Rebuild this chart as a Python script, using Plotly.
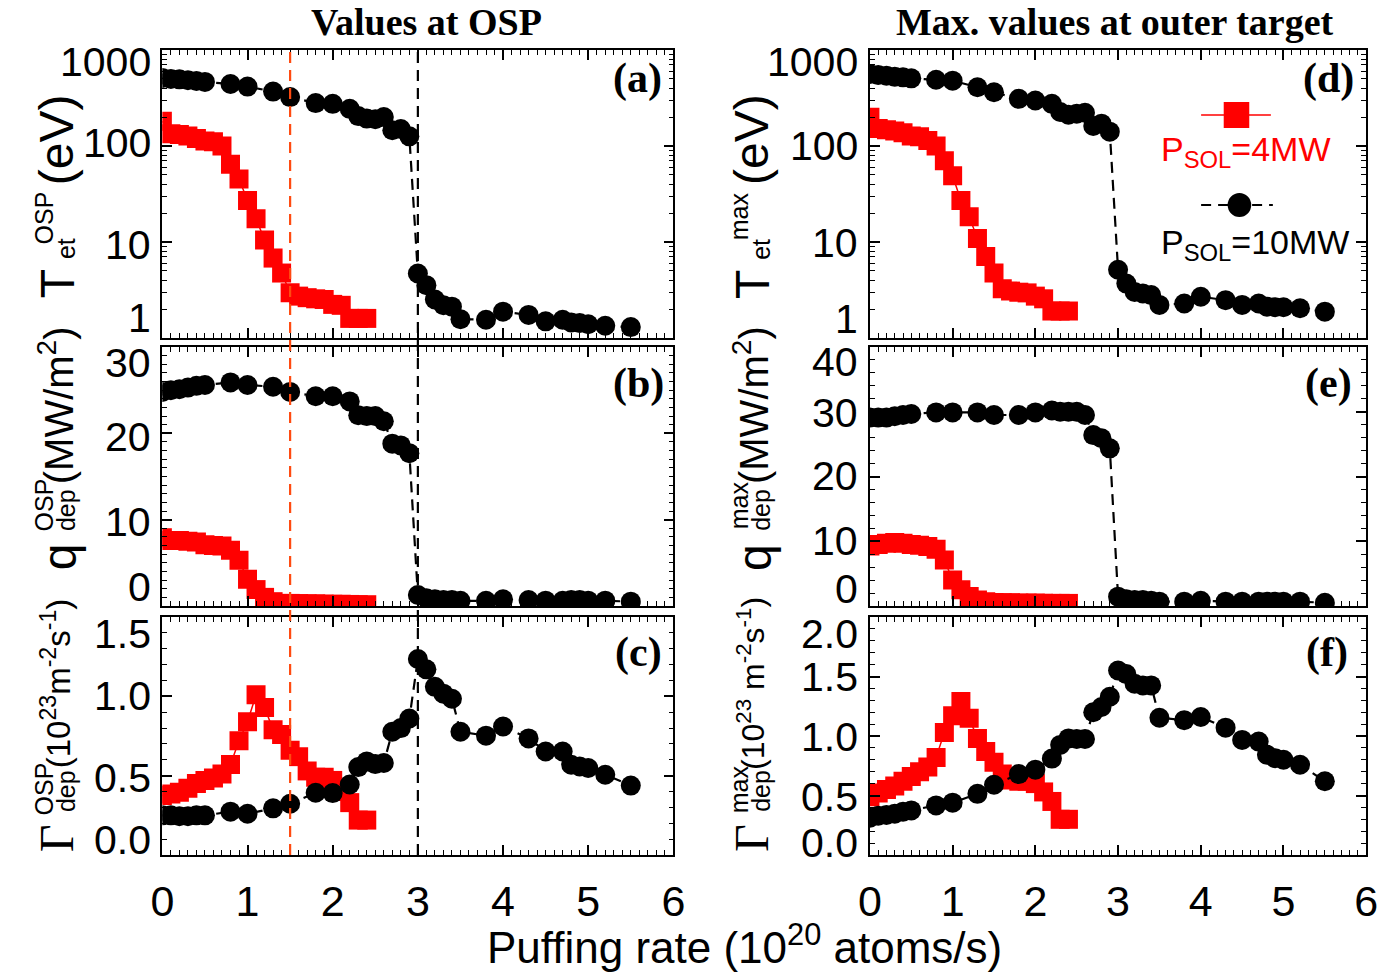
import math
import plotly.graph_objects as go

# ---------------- data ----------------
x_4mw = [0.0, 0.1, 0.2, 0.3, 0.4, 0.5, 0.6, 0.7, 0.8, 0.9, 1.0, 1.1, 1.2,
         1.3, 1.4, 1.5, 1.6, 1.7, 1.8, 1.9, 2.0, 2.1, 2.2, 2.3, 2.4]
x_10mw = [0.0, 0.1, 0.2, 0.3, 0.4, 0.5, 0.8, 1.0, 1.3, 1.5, 1.8, 2.0, 2.2, 2.3,
          2.4, 2.5, 2.6, 2.7, 2.8, 2.9, 3.0, 3.1, 3.2, 3.3, 3.4, 3.5, 3.8, 4.0,
          4.3, 4.5, 4.7, 4.8, 4.9, 5.0, 5.2, 5.5]

te_osp_4mw = [181, 134, 132, 127, 120, 113, 111, 100, 64.7, 45.3, 27.1, 17.5, 10.5,
              6.8, 4.75, 2.96, 2.73, 2.63, 2.56, 2.52, 2.24, 2.19, 1.6, 1.6, 1.6]
te_osp_10mw = [510, 500, 495, 485, 475, 465, 443, 416, 369, 323, 280, 275, 244, 205,
               193, 190, 200, 146, 150, 126, 4.7, 3.55, 2.52, 2.2, 2.12, 1.57, 1.55, 1.88,
               1.74, 1.49, 1.55, 1.45, 1.43, 1.39, 1.34, 1.30]

q_osp_4mw = [7.9, 7.6, 7.6, 7.5, 7.4, 7.1, 7.0, 6.95, 6.45, 5.3, 3.1, 1.9, 1.0,
             0.5, 0.3, 0.3, 0.28, 0.25, 0.25, 0.22, 0.2, 0.2, 0.18, 0.15, 0.15]
q_osp_10mw = [24.8, 25.0, 25.1, 25.3, 25.5, 25.6, 25.9, 25.6, 25.4, 24.8, 24.3, 24.3,
              23.7, 22.1, 22.0, 22.0, 21.4, 18.8, 18.6, 17.7, 1.27, 0.9, 0.77, 0.7,
              0.7, 0.6, 0.6, 0.77, 0.7, 0.62, 0.6, 0.7, 0.7, 0.62, 0.62, 0.5]

gam_osp_4mw = [0.375, 0.385, 0.395, 0.42, 0.45, 0.47, 0.485, 0.51, 0.57, 0.72, 0.84,
               1.01, 0.93, 0.79, 0.76, 0.66, 0.62, 0.53, 0.49, 0.49, 0.47, 0.40,
               0.33, 0.22, 0.22]
gam_osp_10mw = [0.25, 0.25, 0.245, 0.245, 0.25, 0.25, 0.273, 0.26, 0.294, 0.323, 0.392,
                0.39, 0.444, 0.554, 0.59, 0.573, 0.58, 0.777, 0.80, 0.86, 1.235, 1.17,
                1.06, 1.017, 0.985, 0.777, 0.752, 0.81, 0.735, 0.652, 0.652, 0.569,
                0.558, 0.548, 0.506, 0.4375]

te_max_4mw = [199, 152, 148, 143, 137, 127, 125, 114, 100, 70, 49, 27, 18.3, 10.9,
              7.06, 4.76, 3.25, 3.08, 3.0, 2.95, 2.73, 2.56, 1.91, 1.91, 1.91]
te_max_10mw = [561, 548, 540, 525, 519, 507, 490, 479, 409, 363, 310, 298, 275, 226,
               212, 217, 222, 162, 171, 141, 5.14, 3.69, 3.02, 2.91, 2.80, 2.21, 2.29,
               2.69, 2.48, 2.21, 2.29, 2.12, 2.09, 2.09, 2.04, 1.88]

q_max_4mw = [9.27, 9.5, 9.7, 9.8, 9.7, 9.5, 9.4, 9.2, 8.75, 7.1, 4.0, 2.5, 1.45, 0.93,
             0.67, 0.55, 0.5, 0.5, 0.45, 0.45, 0.45, 0.42, 0.4, 0.4, 0.4]
q_max_10mw = [29.1, 29.1, 29.1, 29.3, 29.5, 29.65, 29.9, 29.9, 29.9, 29.5, 29.5, 29.9,
              30.2, 30.0, 30.0, 30.0, 29.5, 26.4, 25.9, 24.35, 1.44, 1.03, 0.93, 0.93,
              0.82, 0.67, 0.67, 0.8, 0.67, 0.67, 0.67, 0.67, 0.67, 0.67, 0.67, 0.5]

gam_max_4mw = [0.49, 0.52, 0.55, 0.58, 0.62, 0.66, 0.70, 0.74, 0.82, 1.03, 1.17, 1.29,
               1.15, 0.98, 0.87, 0.78, 0.68, 0.63, 0.62, 0.62, 0.60, 0.53, 0.45, 0.30, 0.30]
gam_max_10mw = [0.314, 0.33, 0.336, 0.347, 0.364, 0.375, 0.417, 0.44, 0.514, 0.59, 0.68,
                0.717, 0.81, 0.925, 0.98, 0.975, 0.975, 1.2, 1.244, 1.33, 1.55, 1.52,
                1.44, 1.425, 1.425, 1.153, 1.133, 1.16, 1.07, 0.967, 0.953, 0.842,
                0.814, 0.80, 0.758, 0.62]

ref_lines_x = [1.5, 3.0]           # vertical reference lines (left column)
x_ticks = [0, 1, 2, 3, 4, 5, 6]
yt_log = [1, 10, 100, 1000]
yt_log_text = ["1", "10", "100", "1000"]
yt_b = [0, 10, 20, 30]
yt_e = [0, 10, 20, 30, 40]
yt_c = [0.0, 0.5, 1.0, 1.5]
yt_f = [0.0, 0.5, 1.0, 1.5, 2.0]
panel_tags = ["(a)", "(b)", "(c)", "(d)", "(e)", "(f)"]
col_titles = ["Values at OSP", "Max. values at outer target"]
legend_names = ["P<sub>SOL</sub>=4MW", "P<sub>SOL</sub>=10MW"]
x_title = "Puffing rate (10<sup>20</sup> atoms/s)"

# ---------------- layout helpers ----------------
W, H = 1390, 972
def px(x): return x / W
def py(y): return 1 - y / H

SANS = "Liberation Sans, Arial, sans-serif"
SERIF = "Liberation Serif, Times New Roman, serif"
RED = "#ff0000"
ORANGE = "#ff4a10"

COLS = [(153, 673), (873, 1378)]
ROWS = [(50, 338), (347, 606), (617, 855)]

fig = go.Figure()

panels = [
    (0, 0, te_osp_4mw, te_osp_10mw),
    (0, 1, q_osp_4mw, q_osp_10mw),
    (0, 2, gam_osp_4mw, gam_osp_10mw),
    (1, 0, te_max_4mw, te_max_10mw),
    (1, 1, q_max_4mw, q_max_10mw),
    (1, 2, gam_max_4mw, gam_max_10mw),
]

log_minor = [m * d for d in (1, 10, 100) for m in range(2, 10)]

ycfgs = [
    dict(type="log", range=[0, 3], tickvals=yt_log, minor=dict(tickvals=log_minor)),
    dict(range=[0, 30], tickvals=yt_b, minor=dict(dtick=1)),
    dict(range=[0, 1.5], tickvals=yt_c, minor=dict(dtick=0.1)),
    dict(type="log", range=[0, 3], tickvals=yt_log, minor=dict(tickvals=log_minor)),
    dict(range=[0, 40], tickvals=yt_e, minor=dict(dtick=2)),
    dict(range=[0, 2], tickvals=yt_f, minor=dict(dtick=0.1)),
]

axis_common = dict(showgrid=False, zeroline=False, showline=True, linecolor="black",
                   linewidth=1.5, mirror="ticks", ticks="inside", ticklen=10,
                   tickwidth=1.5, tickcolor="black")

for i, (c, r, y4, y10) in enumerate(panels):
    k = i + 1
    xa = "x" if k == 1 else f"x{k}"
    ya = "y" if k == 1 else f"y{k}"
    xdom = [px(COLS[c][0]), px(COLS[c][1])]
    ydom = [py(ROWS[r][1]), py(ROWS[r][0])]
    xcfg = dict(axis_common, domain=xdom, anchor=ya, range=[0, 6], tickvals=x_ticks,
                minor=dict(dtick=0.1, ticks="inside", ticklen=5, tickwidth=1.2,
                           tickcolor="black"),
                showticklabels=(r == 2),
                tickfont=dict(family=SANS, size=43, color="black"),
                ticklabelstandoff=8)
    ycf = dict(axis_common, domain=ydom, anchor=xa, showticklabels=False)
    cfg = ycfgs[i]
    minor = dict(ticks="inside", ticklen=5, tickwidth=1.2, tickcolor="black")
    minor.update(cfg["minor"])
    ycf.update({kk: vv for kk, vv in cfg.items() if kk != "minor"})
    ycf["minor"] = minor
    fig.layout[("xaxis" if k == 1 else f"xaxis{k}")] = xcfg
    fig.layout[("yaxis" if k == 1 else f"yaxis{k}")] = ycf

    fig.add_trace(go.Scatter(x=x_4mw, y=y4, xaxis=xa, yaxis=ya, mode="lines+markers",
                             line=dict(color=RED, width=1.5),
                             marker=dict(symbol="square", size=19, color=RED),
                             showlegend=False))
    fig.add_trace(go.Scatter(x=x_10mw, y=y10, xaxis=xa, yaxis=ya, mode="lines+markers",
                             line=dict(color="black", width=2.2, dash="11px,7px"),
                             marker=dict(symbol="circle", size=20, color="black"),
                             showlegend=False))

# ---- vertical reference lines in the left column ----
for xv, col in zip(ref_lines_x, [ORANGE, "black"]):
    fig.add_shape(type="line", xref="x3", yref="paper", x0=xv, x1=xv,
                  y0=py(ROWS[2][1]), y1=py(ROWS[0][0]),
                  line=dict(color=col, width=2.2, dash="11px,7px"), layer="above")

ann = []
# ---- y tick labels (IDL-style, end labels pulled inward) ----
ytick_sets = [
    (yt_log, yt_log_text, [20, -3, 3, -12], True),
    (yt_b, [str(v) for v in yt_b], [19, -2, -4, -16], False),
    (yt_c, ["0.0", "0.5", "1.0", "1.5"], [15, -2, 0, -17], False),
    (yt_log, yt_log_text, [19, -1, 0, -12], True),
    (yt_e, [str(v) for v in yt_e], [17, 0, 0, -1, -15], False),
    (yt_f, ["0.0", "0.5", "1.0", "1.5", "2.0"], [12, -1, -1, 0, -17], False),
]
for i, (vals, texts, shifts, islog) in enumerate(ytick_sets):
    k = i + 1
    c = panels[i][0]
    ya = "y" if k == 1 else f"y{k}"
    for v, t, s in zip(vals, texts, shifts):
        ann.append(dict(xref="paper", yref=ya, x=px(COLS[c][0] - 10),
                        y=(math.log10(v) if islog else v), yshift=s,
                        text=t, showarrow=False, xanchor="right", yanchor="middle",
                        font=dict(family=SANS, size=41, color="black")))

# ---- panel tags ----
tag_pos = [(636, 78), (637, 383), (637, 652), (1340, 78), (1340, 383), (1338, 652)]
for t, (xx, yy) in zip(panel_tags, tag_pos):
    ann.append(dict(xref="paper", yref="paper", x=px(xx), y=py(yy), text=f"<b>{t}</b>",
                    showarrow=False, xanchor="center", yanchor="middle",
                    font=dict(family=SERIF, size=42, color="black")))

# ---- column titles ----
for t, xx in zip(col_titles, [422, 1122]):
    ann.append(dict(xref="paper", yref="paper", x=px(xx), y=py(22), text=f"<b>{t}</b>",
                    showarrow=False, xanchor="center", yanchor="middle",
                    font=dict(family=SERIF, size=38, color="black")))

# ---- x title ----
ann.append(dict(xref="paper", yref="paper", x=px(745), y=py(944), text=x_title,
                showarrow=False, xanchor="center", yanchor="middle",
                font=dict(family=SANS, size=44, color="black")))

# ---- y titles (rotated pieces) ----
def rot(text, x, y, size, family=SANS):
    ann.append(dict(xref="paper", yref="paper", x=px(x), y=py(y), text=text,
                    showarrow=False, textangle=-90, xanchor="center", yanchor="middle",
                    font=dict(family=family, size=size, color="black")))

for dx, sup, sy, gam, gsz in [(0, "OSP", 218, "(10<sup>23</sup>m<sup>-2</sup>s<sup>-1</sup>)", 33),
                              (707, "max", 216, "(10<sup>23</sup> m<sup>-2</sup>s<sup>-1</sup>)", 32)]:
    # T_et
    rot("T", 46 + dx, 284, 48)
    rot(sup, 33 + dx, sy, 25)
    rot("et", 55 + dx, 249, 25)
    rot("(eV)", 45 + dx, 140, 48)
    # q_dep
    rot("q", 48 + dx, 557, 48)
    rot(sup, 33 + dx, 505, 25)
    rot("dep", 55 + dx, 510, 25)
    rot("(MW/m<sup>2</sup>)", 45 + dx, 405, 40)
    # Gamma_dep
    rot("Γ", 45 + dx, 838, 48, SERIF)
    rot(sup, 33 + dx, 789, 25)
    rot("dep", 55 + dx, 791, 25)
    rot(gam, 45 + dx, 684, gsz)

# ---- legend in panel (d) ----
shapes_leg = [
    dict(type="line", xref="paper", yref="paper", x0=px(1210), x1=px(1281),
         y0=py(115), y1=py(115), line=dict(color=RED, width=1.5)),
    dict(type="rect", xref="paper", yref="paper", x0=px(1233), x1=px(1259),
         y0=py(128), y1=py(102), fillcolor=RED, line=dict(width=0)),
    dict(type="line", xref="paper", yref="paper", x0=px(1210), x1=px(1283),
         y0=py(205), y1=py(205), line=dict(color="black", width=2, dash="10px,7px")),
    dict(type="circle", xref="paper", yref="paper", x0=px(1237), x1=px(1261),
         y0=py(217), y1=py(193), fillcolor="black", line=dict(width=0)),
]
for s in shapes_leg:
    fig.add_shape(**s)
ann.append(dict(xref="paper", yref="paper", x=px(1167), y=py(151), text=legend_names[0],
                showarrow=False, xanchor="left", yanchor="middle",
                font=dict(family=SANS, size=34, color=RED)))
ann.append(dict(xref="paper", yref="paper", x=px(1167), y=py(244), text=legend_names[1],
                showarrow=False, xanchor="left", yanchor="middle",
                font=dict(family=SANS, size=34, color="black")))

fig.update_layout(width=W, height=H, margin=dict(l=0, r=0, t=0, b=0),
                  paper_bgcolor="white", plot_bgcolor="white", annotations=ann,
                  showlegend=False)

fig.write_html("out.html")
